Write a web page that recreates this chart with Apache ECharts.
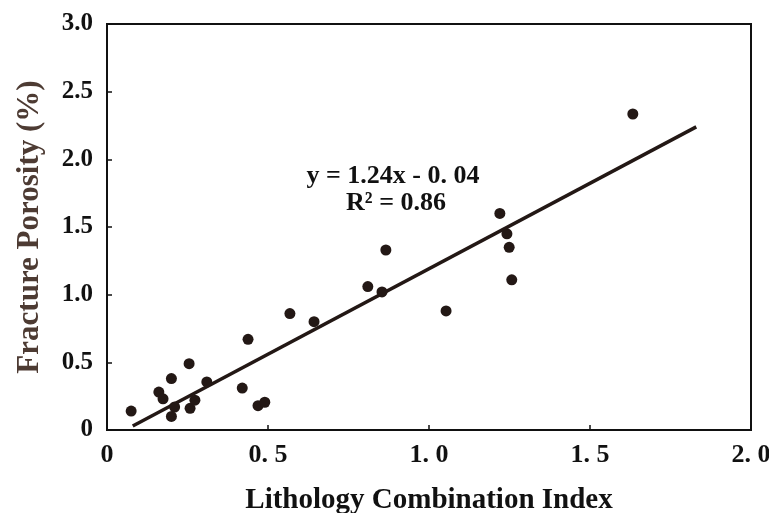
<!DOCTYPE html>
<html>
<head>
<meta charset="utf-8">
<script src="https://cdn.jsdelivr.net/npm/echarts@6/dist/echarts.min.js"></script>
<style>html,body{margin:0;padding:0;background:#fff;}#c{width:769px;height:513px;}</style>
</head>
<body>
<div id="c"></div>
<script>
const xValues = [0.075, 0.161, 0.174, 0.20, 0.21, 0.20, 0.255, 0.258, 0.273, 0.31, 0.42, 0.438, 0.469, 0.49, 0.568, 0.643, 0.81, 0.854, 0.866, 1.053, 1.22, 1.242, 1.249, 1.257, 1.633];
const yValues = [0.14, 0.28, 0.23, 0.38, 0.17, 0.10, 0.49, 0.16, 0.22, 0.355, 0.31, 0.67, 0.18, 0.205, 0.86, 0.80, 1.06, 1.02, 1.33, 0.88, 1.60, 1.45, 1.35, 1.11, 2.335];
const fitLineX = [0.08, 1.83];
const fitLineY = [0.03, 2.24];
const equationText = 'y = 1.24x - 0. 04';
const r2Text = 'R² = 0.86';
const xTitle = 'Lithology Combination Index';
const yTitle = 'Fracture Porosity (%)';

const points = xValues.map((x, i) => [x, yValues[i]]);
const linePts = fitLineX.map((x, i) => [x, fitLineY[i]]);
const serif = '"Liberation Serif", "Times New Roman", serif';
const ink = '#231815';

const chart = echarts.init(document.getElementById('c'));
chart.setOption({
  animation: false,
  backgroundColor: '#fff',
  grid: { left: 107, top: 24, right: 18, bottom: 83, containLabel: false, outerBoundsMode: 'none', show: true, borderColor: '#111', borderWidth: 2, backgroundColor: 'transparent' },
  xAxis: {
    type: 'value', min: 0, max: 2, interval: 0.5,
    name: xTitle, nameLocation: 'middle', nameGap: 56,
    nameTextStyle: { fontFamily: serif, fontWeight: 'bold', fontSize: 29, color: '#111' },
    axisLine: { lineStyle: { color: '#111', width: 2 } },
    axisTick: { inside: true, length: 5, lineStyle: { color: '#111', width: 1.5 } },
    splitLine: { show: false },
    axisLabel: { margin: 12, fontFamily: serif, fontWeight: 'bold', fontSize: 26, color: '#111',
      formatter: v => v === 0 ? '0' : v.toFixed(1).replace('.', '. ') }
  },
  yAxis: {
    type: 'value', min: 0, max: 3, interval: 0.5,
    name: yTitle, nameLocation: 'middle', nameGap: 62,
    nameTextStyle: { fontFamily: serif, fontWeight: 'bold', fontSize: 31, color: '#4d3b33' },
    axisLine: { lineStyle: { color: '#111', width: 2 } },
    axisTick: { inside: true, length: 5, lineStyle: { color: '#111', width: 1.5 } },
    splitLine: { show: false },
    axisLabel: { margin: 14, fontFamily: serif, fontWeight: 'bold', fontSize: 25, color: '#111',
      formatter: v => v === 0 ? '0' : v.toFixed(1) }
  },
  series: [
    { type: 'line', data: linePts, symbol: 'none', lineStyle: { color: ink, width: 3.5 }, z: 2 },
    { type: 'scatter', data: points, symbol: 'circle', symbolSize: 11, itemStyle: { color: ink, opacity: 1 }, z: 3 }
  ],
  graphic: [
    { type: 'text', style: { text: equationText, x: 393, y: 176, textAlign: 'center', textVerticalAlign: 'middle', font: 'bold 26px ' + serif, fill: '#111' } },
    { type: 'text', style: { text: r2Text, x: 396, y: 203, textAlign: 'center', textVerticalAlign: 'middle', font: 'bold 26px ' + serif, fill: '#111' } }
  ]
});
</script>
</body>
</html>
